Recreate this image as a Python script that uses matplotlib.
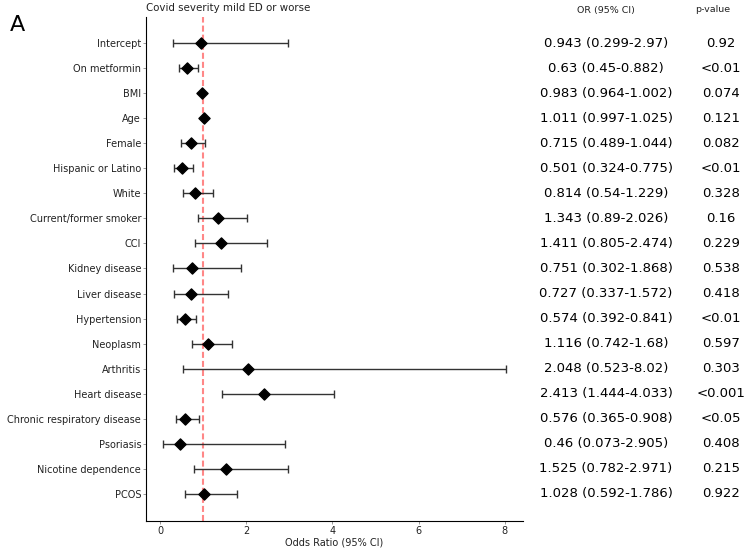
import matplotlib
matplotlib.use("Agg")
import matplotlib.pyplot as plt
import matplotlib.transforms as mtransforms

labels = ["Intercept", "On metformin", "BMI", "Age", "Female", "Hispanic or Latino",
          "White", "Current/former smoker", "CCI", "Kidney disease", "Liver disease",
          "Hypertension", "Neoplasm", "Arthritis", "Heart disease",
          "Chronic respiratory disease", "Psoriasis", "Nicotine dependence", "PCOS"]
odds = [0.943, 0.63, 0.983, 1.011, 0.715, 0.501, 0.814, 1.343, 1.411, 0.751, 0.727,
        0.574, 1.116, 2.048, 2.413, 0.576, 0.46, 1.525, 1.028]
lower = [0.299, 0.45, 0.964, 0.997, 0.489, 0.324, 0.54, 0.89, 0.805, 0.302, 0.337,
         0.392, 0.742, 0.523, 1.444, 0.365, 0.073, 0.782, 0.592]
upper = [2.97, 0.882, 1.002, 1.025, 1.044, 0.775, 1.229, 2.026, 2.474, 1.868, 1.572,
         0.841, 1.68, 8.02, 4.033, 0.908, 2.905, 2.971, 1.786]
pvals = ["0.92", "<0.01", "0.074", "0.121", "0.082", "<0.01", "0.328", "0.16", "0.229",
         "0.538", "0.418", "<0.01", "0.597", "0.303", "<0.001", "<0.05", "0.408",
         "0.215", "0.922"]
ci_text = [f"{o} ({l}-{u})" for o, l, u in zip(odds, lower, upper)]

fig = plt.figure(figsize=(7.5, 5.49), dpi=100)
ax = fig.add_axes([146/750, 1 - 521/549, (523-146)/750, (521-17)/549])

ypos = list(range(len(labels)))
xerr = [[o - l for o, l in zip(odds, lower)], [u - o for o, u in zip(odds, upper)]]
ax.axvline(1, color="#ff7a7a", linestyle=(0, (2.9, 1.45)), linewidth=1.5, alpha=0.9, zorder=1)
ax.errorbar(odds, ypos, xerr=xerr, fmt="none", ecolor="#333333", elinewidth=1.0,
            capsize=3, capthick=1.0, zorder=2)
ax.scatter(odds, ypos, marker="D", s=32, color="black", zorder=3)

ax.set_yticks(ypos)
ax.set_yticklabels(labels, fontsize=7, color="#222222")
ax.set_ylim(len(labels) - 1 + 1.08, -1.04)
ax.set_xticks([0, 2, 4, 6, 8])
ax.tick_params(axis="both", length=2, width=0.6, color="#888888", pad=1.5)
ax.tick_params(axis="x", labelsize=7, labelcolor="#222222")
ax.set_xlim(-0.324, 8.42)
ax.set_xlabel("Odds Ratio (95% CI)", fontsize=7, labelpad=1, color="#222222")
ax.spines["top"].set_visible(False)
ax.spines["right"].set_visible(False)
ax.set_title("Covid severity mild ED or worse", loc="left", fontsize=7.4, pad=4.5,
             color="#222222")

trans = mtransforms.blended_transform_factory(fig.transFigure, ax.transData)
for y, t, p in zip(ypos, ci_text, pvals):
    ax.text(606/750, y, t, transform=trans, ha="center", va="center", fontsize=9.5)
    ax.text(721/750, y, p, transform=trans, ha="center", va="center", fontsize=9.5)

fig.text(606/750, 1 - 10/549, "OR (95% CI)", ha="center", va="center", fontsize=6.8,
         color="#222222")
fig.text(713/750, 1 - 10/549, "p-value", ha="center", va="center", fontsize=6.8,
         color="#222222")
fig.text(10/750, 1 - 25/549, "A", ha="left", va="center", fontsize=16)

fig.savefig("out.png", dpi=100)
